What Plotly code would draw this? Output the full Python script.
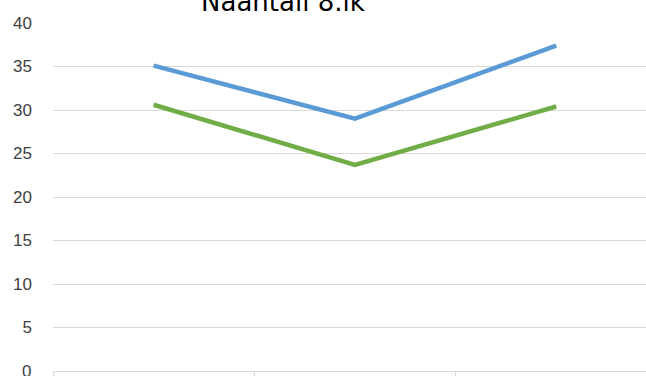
import plotly.graph_objects as go

categories = [0, 1, 2]
series_blue = [35.1, 29.0, 37.4]
series_green = [30.6, 23.7, 30.4]
y_ticks = [0, 5, 10, 15, 20, 25, 30, 35, 40]
title_text = "Naantali 8.lk"

W, H = 646, 376
left, top, bottom = 53, 23, 5
unit = 201.3
xmax = (W - left) / unit - 0.5
plot_h = H - top - bottom

fig = go.Figure()
fig.add_trace(go.Scatter(x=categories, y=series_blue, mode="lines",
                         line=dict(color="#5b9bd5", width=4.5),
                         showlegend=False, cliponaxis=False))
fig.add_trace(go.Scatter(x=categories, y=series_green, mode="lines",
                         line=dict(color="#70ad47", width=4.5),
                         showlegend=False, cliponaxis=False))

tick_font = dict(family="Liberation Sans, Arial", size=17, color="#404040")
fig.update_layout(
    width=W, height=H,
    margin=dict(l=left, r=0, t=top, b=bottom, pad=0),
    plot_bgcolor="white", paper_bgcolor="white",
    font=tick_font,
)
fig.update_xaxes(range=[-0.5, xmax], tickvals=[-0.5, 0.5, 1.5, 2.5],
                 ticktext=["", "", "", ""], ticks="outside", ticklen=6,
                 tickcolor="#d9d9d9", tickwidth=1.3, showgrid=False,
                 showline=True, linecolor="#d9d9d9", linewidth=1.3, zeroline=False)
fig.update_yaxes(range=[0, 40], tickvals=y_ticks[1:], showgrid=True,
                 gridcolor="#d9d9d9", gridwidth=1.3, zeroline=False,
                 ticks="", ticklabelstandoff=20, showline=False)
# bottom tick label (partly outside the figure, as in the reference)
fig.add_annotation(text=str(y_ticks[0]), xref="paper", yref="y",
                   x=-20 / (W - left), y=y_ticks[0], xanchor="right",
                   yanchor="middle", showarrow=False, font=tick_font)
fig.add_annotation(text=title_text, xref="paper", yref="paper",
                   x=(283 - left) / (W - left), y=1 + (top - 12) / plot_h,
                   yanchor="bottom", xanchor="center", showarrow=False,
                   font=dict(family="DejaVu Sans", size=26, color="#000000"),
                   yshift=-7)
fig.write_html("out.html")
